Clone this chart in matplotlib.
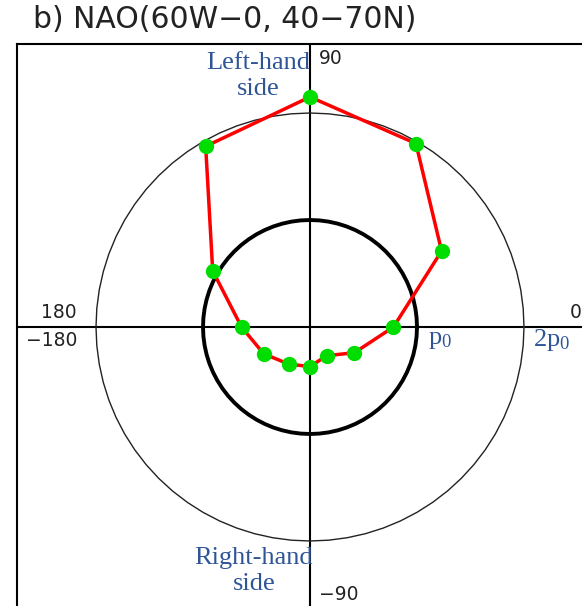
import numpy as np
import matplotlib
matplotlib.use("Agg")
import matplotlib.pyplot as plt

# Phase angle (degrees) and amplitude (in units of p0) for each point of the loop
angles_deg = [90, 60, 30, 0, -30, -60, -90, -120, -150, 180, 150, 120]
amplitude = [2.15, 1.98, 1.42, 0.78, 0.48, 0.31, 0.37, 0.40, 0.50, 0.64, 1.05, 1.95]

title = "b) NAO(60W\u22120, 40\u221270N)"
tick_labels = {"top": "90", "bottom": "\u221290", "left_up": "180", "left_down": "\u2212180", "right": "0"}

plt.rcParams["mathtext.fontset"] = "custom"
plt.rcParams["mathtext.rm"] = "Liberation Serif"
plt.rcParams["mathtext.it"] = "Liberation Serif:italic"

W, H = 582, 606
fig = plt.figure(figsize=(W / 100, H / 100), dpi=100)

# Axes placed in pixel terms; it runs past the right and bottom edges
cx, cy, scale = 310, 327, 107.0
x0_px, y0_px, x1_px, y1_px = 17, 44, 620, 640
ax = fig.add_axes([x0_px / W, 1 - y1_px / H, (x1_px - x0_px) / W, (y1_px - y0_px) / H])
ax.set_xlim((x0_px - cx) / scale, (x1_px - cx) / scale)
ax.set_ylim((cy - y1_px) / scale, (cy - y0_px) / scale)
ax.set_xticks([])
ax.set_yticks([])
for s in ax.spines.values():
    s.set_linewidth(1.5)
    s.set_color("black")

# Cross axes
ax.axhline(0, color="black", lw=1.5, zorder=2)
ax.axvline(0, color="black", lw=1.5, zorder=2)

# Reference circles at p0 and 2p0
t = np.linspace(0, 2 * np.pi, 73)
ax.plot(np.cos(t), np.sin(t), color="black", lw=2.8, zorder=3)
ax.plot(2 * np.cos(t), 2 * np.sin(t), color="#222222", lw=1.0, zorder=3)

# Closed loop of points
th = np.deg2rad(angles_deg + angles_deg[:1])
r = np.array(amplitude + amplitude[:1])
x, y = r * np.cos(th), r * np.sin(th)
ax.plot(x, y, color="#ff0000", lw=2.5, zorder=4)
ax.plot(x[:-1], y[:-1], "o", color="#00dd00", ms=10, mec="#00dd00", zorder=5)

# Title
fig.text(33 / W, 1 - 20 / H, title, fontsize=21.5, family="DejaVu Sans",
         va="center", ha="left", color="#222222")

# Angle labels
lab = dict(fontsize=13.5, family="DejaVu Sans", color="#222222", va="center")
fig.text(319 / W, 1 - 59 / H, tick_labels["top"], ha="left", **lab)
fig.text(319 / W, 1 - 595 / H, tick_labels["bottom"], ha="left", **lab)
fig.text(77 / W, 1 - 313 / H, tick_labels["left_up"], ha="right", **lab)
fig.text(77 / W, 1 - 341 / H, tick_labels["left_down"], ha="right", **lab)
fig.text(570 / W, 1 - 313 / H, tick_labels["right"], ha="left", **lab)

# Annotations
blue = "#2f5597"
ann = dict(fontsize=19, family="Liberation Serif", color=blue, linespacing=1.2)
fig.text(258 / W, 1 - 76 / H, "Left-hand\nside", ha="center", va="center", **ann)
fig.text(254 / W, 1 - 571 / H, "Right-hand\nside", ha="center", va="center", **ann)
fig.text(428 / W, 1 - 340 / H, r"$\mathrm{p_0}$", ha="left", va="center", **ann)
fig.text(533 / W, 1 - 340 / H, r"$\mathrm{2p_0}$", ha="left", va="center", **ann)

fig.savefig("out.png", dpi=100)
